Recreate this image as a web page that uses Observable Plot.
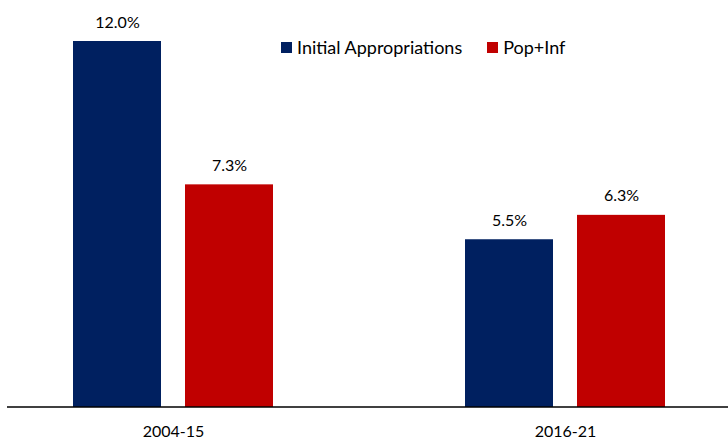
<!DOCTYPE html>
<html>
<head>
<meta charset="utf-8">
<script src="https://cdn.jsdelivr.net/npm/d3@7"></script>
<script src="https://cdn.jsdelivr.net/npm/@observablehq/plot@0.6"></script>
<style>
  html, body { margin: 0; padding: 0; background: #fff; }
  #wrap { position: relative; width: 728px; height: 442px; font-family: Lato, "Open Sans", sans-serif; }
  #legend { position: absolute; left: 281px; top: 36px; display: flex; align-items: center; font-size: 18px; color: #000; }
  #legend .item { display: flex; align-items: center; margin-right: 25px; }
  #legend .sw { width: 11px; height: 11px; margin-right: 5px; }
</style>
</head>
<body>
<div id="wrap"><div id="legend"></div></div>
<script>
const groups = ["2004-15", "2016-21"];
const series = ["Initial Appropriations", "Pop+Inf"];
const initialAppropriations = [12.0, 5.5];
const popInf = [7.3, 6.3];
const colors = ["#002060", "#C00000"];

const data = [];
groups.forEach((g, i) => {
  data.push({group: g, series: series[0], value: initialAppropriations[i]});
  data.push({group: g, series: series[1], value: popInf[i]});
});

const plot = Plot.plot({
  width: 728,
  height: 442,
  marginLeft: 72,
  marginRight: 63,
  marginTop: 41,
  marginBottom: 35,
  style: {fontFamily: "Lato, 'Open Sans', sans-serif", fontSize: "16px", color: "#000", background: "#fff"},
  fx: {domain: groups, paddingInner: 0.491, paddingOuter: 0, label: null, tickSize: 0, tickPadding: 18},
  x: {domain: series, paddingInner: 0.2143, paddingOuter: 0, axis: null},
  y: {domain: [0, 12], axis: null},
  color: {domain: series, range: colors},
  marks: [
    Plot.barY(data, {fx: "group", x: "series", y: "value", fill: "series"}),
    Plot.text(data, {fx: "group", x: "series", y: "value", text: d => d.value.toFixed(1) + "%", dy: -19, fontSize: 16, fill: "#000"})
  ]
});

const wrap = document.getElementById("wrap");
wrap.insertBefore(plot, wrap.firstChild);

// baseline across the full width, positioned with the plot's y scale
const y0 = plot.scale("y").apply(0);
d3.select(plot).append("line")
  .attr("x1", 7).attr("x2", 728)
  .attr("y1", y0).attr("y2", y0)
  .attr("stroke", "#000").attr("stroke-width", 1.5);

const legend = d3.select("#legend");
series.forEach((s, i) => {
  const item = legend.append("div").attr("class", "item");
  item.append("div").attr("class", "sw").style("background", colors[i]);
  item.append("span").text(s);
});
</script>
</body>
</html>
